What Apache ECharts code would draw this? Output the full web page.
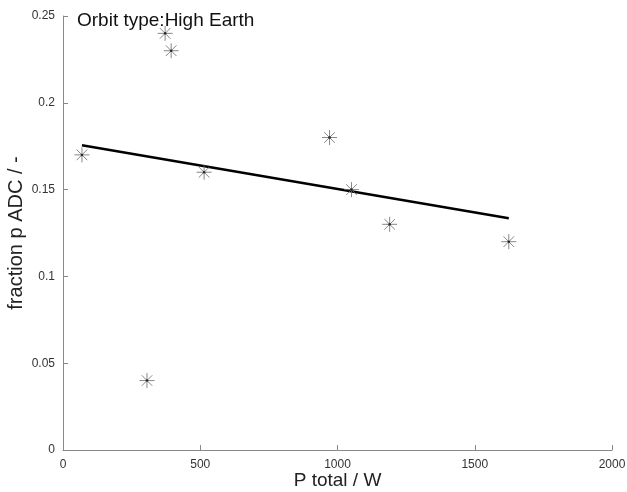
<!DOCTYPE html>
<html><head><meta charset="utf-8">
<script src="https://cdn.jsdelivr.net/npm/echarts@6/dist/echarts.min.js"></script>
<style>html,body{margin:0;padding:0;background:#fff}#c{width:627px;height:492px}</style>
</head><body><div id="c"></div>
<script>
const pointX = [69, 306, 372, 394, 514, 971, 1051, 1190, 1624];
const pointY = [0.17, 0.04, 0.24, 0.23, 0.16, 0.18, 0.15, 0.13, 0.12];
const fitX = [69, 1624];
const fitY = [0.1755, 0.1335];
const title = 'Orbit type:High Earth';
const xName = 'P total / W';
const yName = 'fraction p ADC / -';

const F = '"Liberation Sans", Arial, sans-serif';
const star = 'path://M0,-10L0,10M-10,0L10,0M-7.07,-7.07L7.07,7.07M-7.07,7.07L7.07,-7.07';
const chart = echarts.init(document.getElementById('c'), null, {renderer: 'canvas'});
chart.setOption({
  animation: false,
  backgroundColor: '#fff',
  title: {text: title, left: 72, top: 6, textStyle: {fontFamily: F, fontSize: 19, fontWeight: 'normal', color: '#111'}},
  grid: {left: 63, right: 15, top: 16, bottom: 42, containLabel: false, outerBoundsMode: 'none'},
  xAxis: {
    type: 'value', min: 0, max: 2000, interval: 500,
    name: xName, nameLocation: 'middle', nameGap: 31, nameMoveOverlap: false,
    nameTextStyle: {fontFamily: F, fontSize: 19, color: '#222', verticalAlign: 'middle'},
    axisLine: {show: true, lineStyle: {color: '#888', width: 1}},
    axisTick: {show: true, inside: true, length: 5, lineStyle: {color: '#888'}},
    axisLabel: {fontFamily: F, fontSize: 12, color: '#333', margin: 9, formatter: v => String(v)},
    splitLine: {show: false}
  },
  yAxis: {
    type: 'value', min: 0, max: 0.25, interval: 0.05,
    name: yName, nameLocation: 'middle', nameGap: 47, nameRotate: 90, nameMoveOverlap: false,
    nameTextStyle: {fontFamily: F, fontSize: 20, color: '#222', verticalAlign: 'middle'},
    axisLine: {show: true, lineStyle: {color: '#888', width: 1}},
    axisTick: {show: true, inside: true, length: 5, lineStyle: {color: '#888'}},
    axisLabel: {fontFamily: F, fontSize: 12, color: '#333', margin: 8},
    splitLine: {show: false}
  },
  series: [
    {
      type: 'line', data: fitX.map((x, i) => [x, fitY[i]]),
      showSymbol: false, lineStyle: {color: '#000', width: 2.5}, z: 2
    },
    {
      type: 'scatter', data: pointX.map((x, i) => [x, pointY[i]]),
      symbol: star, symbolSize: 15,
      itemStyle: {color: 'transparent', borderColor: '#6a6a6a', borderWidth: 1}, z: 3
    },
    {
      type: 'scatter', data: pointX.map((x, i) => [x, pointY[i]]),
      symbol: 'circle', symbolSize: 2.5,
      itemStyle: {color: '#111'}, z: 4
    }
  ]
});
</script></body></html>
